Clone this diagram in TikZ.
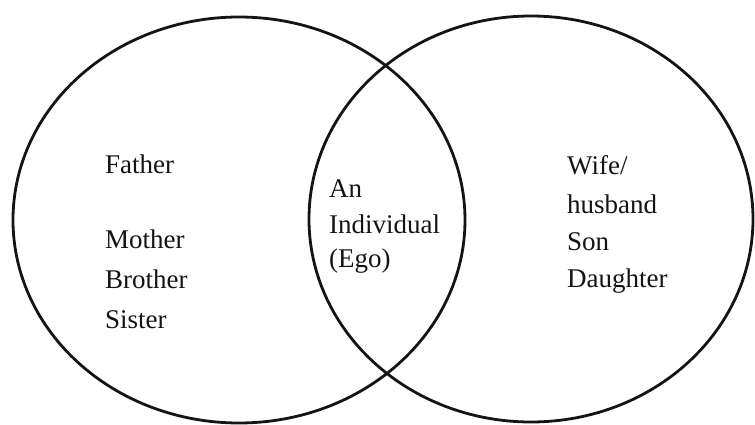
\documentclass[tikz,border=0pt]{standalone}
\usepackage{fontspec}
\setmainfont{Liberation Serif}
\usepackage{tikz}
\usetikzlibrary{positioning}
\definecolor{inkblack}{RGB}{20, 20, 20}

\begin{document}
\begin{tikzpicture}[x=1pt, y=-1pt,
    ring/.style={draw=inkblack, line width=2.8pt},
    kin/.style={anchor=base west, inner sep=0pt, text=inkblack,
                font=\fontsize{27}{31}\selectfont}]
    \useasboundingbox (0,0) rectangle (755,425);
    % the two circles
    \draw[ring] (239,220) ellipse [x radius=226, y radius=203];
    \draw[ring] (531,219) ellipse [x radius=222, y radius=203];
    % family of orientation
    \node[kin] (father)  at (105,173) {Father};
    \node[kin] (mother)  at (105,248) {Mother};
    \node[kin] (brother) at (105,288) {Brother};
    \node[kin] (sister)  at (105,328) {Sister};
    % ego
    \node[kin] (an)    at (329,197) {An};
    \node[kin] (indiv) at (329,233) {Individual};
    \node[kin] (ego)   at (329,267) {(Ego)};
    % family of procreation
    \node[kin] (wife)     at (567,175) {Wife/};
    \node[kin] (husband)  at (567,213) {husband};
    \node[kin] (son)      at (567,250) {Son};
    \node[kin] (daughter) at (567,287) {Daughter};
\end{tikzpicture}
\end{document}
